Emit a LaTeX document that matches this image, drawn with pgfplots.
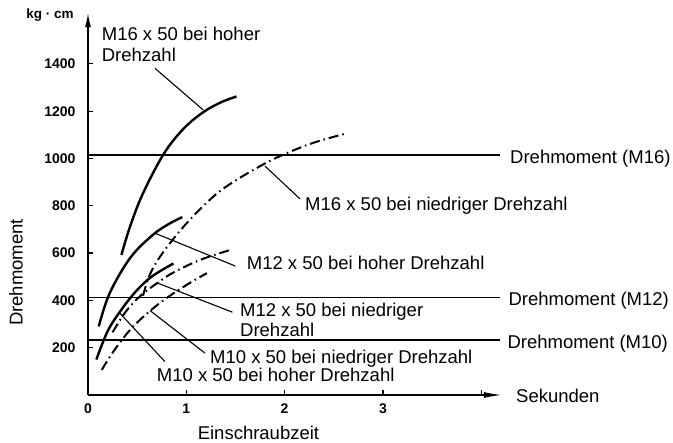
\documentclass[border=0pt]{standalone}
\usepackage{fontspec}
\setmainfont{Liberation Sans}
\usepackage{pgfplots}
\pgfplotsset{compat=1.18}
\usetikzlibrary{arrows.meta}
\newcommand{\lab}{\fontsize{18.5}{20}\selectfont}
\begin{document}
\begin{tikzpicture}
\useasboundingbox (-88pt,-48pt) rectangle (585pt,395pt);
\begin{axis}[
  at={(0pt,0pt)}, anchor=south west,
  x=98.3pt, y=0.2365pt,
  xmin=0, xmax=4.21, ymin=0, ymax=1615,
  axis x line=bottom, axis y line=left,
  x axis line style={line width=1.4pt,-{Latex[length=18pt,width=6pt]}},
  y axis line style={line width=1.4pt,-{Latex[length=14pt,width=6pt]}},
  clip=false,
  xtick={0,1,2,3,4}, xticklabels={0,1,2,3,},
  ytick={200,400,600,800,1000,1200,1400},
  tick align=inside, major tick length=5pt,
  tick style={line width=1.2pt, black},
  /pgf/number format/assume math mode=true,
  /pgf/number format/1000 sep={},
  scaled y ticks=false,
  yticklabel style={font=\fontsize{14}{16}\selectfont\bfseries, xshift=-9pt},
  xticklabel style={font=\fontsize{14}{16}\selectfont\bfseries, yshift=-5pt},
]
% horizontal torque lines
\addplot[line width=1.3pt] coordinates {(0,1015) (4.19,1015)};
\addplot[line width=1.3pt] coordinates {(0,412) (4.19,412)};
\addplot[line width=1.3pt] coordinates {(0,233) (4.19,233)};

% M16 hoher (solid)
\addplot[line width=2.4pt, smooth, tension=0.6] coordinates {
 (0.34,592) (0.43,715) (0.56,853) (0.77,1019) (0.97,1125) (1.17,1195) (1.35,1237) (1.51,1262)};
% M16 niedriger (dash-dot)
\addplot[line width=2pt, smooth, tension=0.6, dash pattern=on 10pt off 4pt on 1.5pt off 4pt] coordinates {
 (0.56,420) (0.63,510) (0.75,595) (0.99,720) (1.27,837) (1.475,900) (1.77,972) (1.98,1015) (2.29,1066) (2.61,1104)};
% M12 hoher (solid)
\addplot[line width=2.4pt, smooth, tension=0.6] coordinates {
 (0.11,290) (0.22,430) (0.43,580) (0.66,677) (0.83,725) (0.96,752)};
% M12 niedriger (dash-dot)
\addplot[line width=2pt, smooth, tension=0.6, dash pattern=on 10pt off 4pt on 1.5pt off 4pt] coordinates {
 (0.25,265) (0.38,350) (0.53,418) (0.71,475) (0.87,518) (1.14,571) (1.445,613)};
% M10 hoher (solid)
\addplot[line width=2.4pt, smooth, tension=0.6] coordinates {
 (0.085,150) (0.2,270) (0.33,355) (0.48,435) (0.63,495) (0.78,535) (0.87,556)};
% M10 niedriger (dash-dot)
\addplot[line width=2pt, smooth, tension=0.6, dash pattern=on 10pt off 4pt on 1.5pt off 4pt] coordinates {
 (0.14,106) (0.22,160) (0.33,225) (0.46,290) (0.63,355) (0.80,410) (1.04,475) (1.21,515)};

% leader lines
\addplot[line width=1.1pt] coordinates {(0.682,1381) (1.173,1205)};
\addplot[line width=1.1pt] coordinates {(1.80,968) (2.157,829)};
\addplot[line width=1.1pt] coordinates {(0.682,684) (1.50,545)};
\addplot[line width=1.1pt] coordinates {(0.715,472) (1.47,350)};
\addplot[line width=1.1pt] coordinates {(0.631,357) (1.19,177)};
\addplot[line width=1.1pt] coordinates {(0.3255,345) (0.783,141)};

% labels
\node[anchor=base west, inner sep=0, font=\lab] at (axis cs:0.139,1497) {M16 x 50 bei hoher};
\node[anchor=base west, inner sep=0, font=\lab] at (axis cs:0.139,1412) {Drehzahl};
\node[anchor=base west, inner sep=0, font=\lab] at (axis cs:4.293,977) {Drehmoment (M16)};
\node[anchor=base west, inner sep=0, font=\lab] at (axis cs:2.208,782) {M16 x 50 bei niedriger Drehzahl};
\node[anchor=base west, inner sep=0, font=\lab] at (axis cs:1.614,529) {M12 x 50 bei hoher Drehzahl};
\node[anchor=base west, inner sep=0, font=\lab] at (axis cs:4.276,378) {Drehmoment (M12)};
\node[anchor=base west, inner sep=0, font=\lab] at (axis cs:1.546,331) {M12 x 50 bei niedriger};
\node[anchor=base west, inner sep=0, font=\lab] at (axis cs:1.546,249) {Drehzahl};
\node[anchor=base west, inner sep=0, font=\lab] at (axis cs:4.266,197) {Drehmoment (M10)};
\node[anchor=base west, inner sep=0, font=\lab] at (axis cs:1.241,134) {M10 x 50 bei niedriger Drehzahl};
\node[anchor=base west, inner sep=0, font=\lab] at (axis cs:0.699,56) {M10 x 50 bei hoher Drehzahl};
\node[anchor=base west, inner sep=0, font=\lab] at (axis cs:4.354,-33) {Sekunden};
\node[anchor=base, inner sep=0, font=\lab] at (axis cs:1.734,-188) {Einschraubzeit};
\node[anchor=center, inner sep=0, font=\lab, rotate=90] at (axis cs:-0.732,518) {Drehmoment};
\node[anchor=base, inner sep=0, font=\fontsize{13.5}{15}\selectfont\bfseries] at (axis cs:-0.387,1590) {kg · cm};
\end{axis}
\end{tikzpicture}
\end{document}
